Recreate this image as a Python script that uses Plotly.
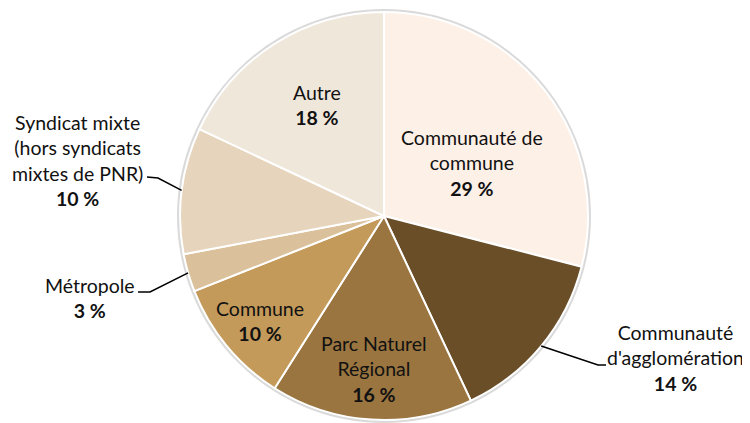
import math
import plotly.graph_objects as go

# ---- data ----
categories = ["Communauté de commune", "Communauté d'agglomération", "Parc Naturel Régional",
              "Commune", "Métropole", "Syndicat mixte (hors syndicats mixtes de PNR)", "Autre"]
display_names = ["Communauté de<br>commune", "Communauté<br>d'agglomération", "Parc Naturel<br>Régional",
                 "Commune", "Métropole", "Syndicat mixte<br>(hors syndicats<br>mixtes de PNR)", "Autre"]
values = [29, 14, 16, 10, 3, 10, 18]
colors = ["#FDF0E7", "#694E28", "#9B7540", "#C39A5A", "#DBC19B", "#E6D5BC", "#F0E7DB"]

# ---- layout geometry (pixels, in screen coordinates) ----
OFF = 8            # page body margin of the html page
W, H = 750 - OFF, 423 - OFF
CX, CY, R = 384, 216, 204
FONT = "Lato"
FS = 19.5

def px(x):
    return (x - OFF) / W

def py(y):
    return (H - (y - OFF)) / H

# label centre positions (px) and outside leader lines
label_pos = [(472, 163), (675, 358), (374, 369), (260, 321), (90, 298), (77, 160), (317, 105)]
leader_elbow = [None, (598, 365), None, None, (150, 292), (158, 178), None]
leader_end = [None, (606, 365), None, None, (138, 292), (147, 177), None]

fig = go.Figure()
fig.add_trace(go.Pie(
    labels=categories, values=values, sort=False, direction="clockwise", rotation=0,
    marker=dict(colors=colors, line=dict(color="white", width=2)),
    textinfo="none", hoverinfo="label+percent", showlegend=False,
    domain=dict(x=[px(CX - R), px(CX + R)], y=[py(CY + R), py(CY - R)]),
))

annotations = []
shapes = []
# soft rim around the pie
shapes.append(dict(type="circle", xref="paper", yref="paper", layer="below",
                   x0=px(CX - R - 1.5), x1=px(CX + R + 1.5), y0=py(CY + R + 1.5), y1=py(CY - R - 1.5),
                   line=dict(color="#DADADA", width=3), fillcolor="rgba(0,0,0,0)"))

total = sum(values)
cum = 0
for i, v in enumerate(values):
    mid = (cum + v / 2) / total * 2 * math.pi
    cum += v
    lx, ly = label_pos[i]
    annotations.append(dict(
        x=px(lx), y=py(ly), xref="paper", yref="paper", xanchor="center", yanchor="middle",
        text=f"{display_names[i]}<br><b>{v} %</b>", showarrow=False, align="center",
        font=dict(family=FONT, size=FS, color="#111111"),
    ))
    if leader_elbow[i] is not None:
        ax = CX + R * math.sin(mid)
        ay = CY - R * math.cos(mid)
        ex, ey = leader_elbow[i]
        tx, ty = leader_end[i]
        path = f"M {px(ax)},{py(ay)} L {px(ex)},{py(ey)} L {px(tx)},{py(ty)}"
        shapes.append(dict(type="path", xref="paper", yref="paper", path=path,
                           line=dict(color="#000000", width=1.5)))

fig.update_layout(
    width=W, height=H, margin=dict(l=0, r=0, t=0, b=0),
    paper_bgcolor="white", plot_bgcolor="white",
    annotations=annotations, shapes=shapes,
)
fig.write_html("out.html")
